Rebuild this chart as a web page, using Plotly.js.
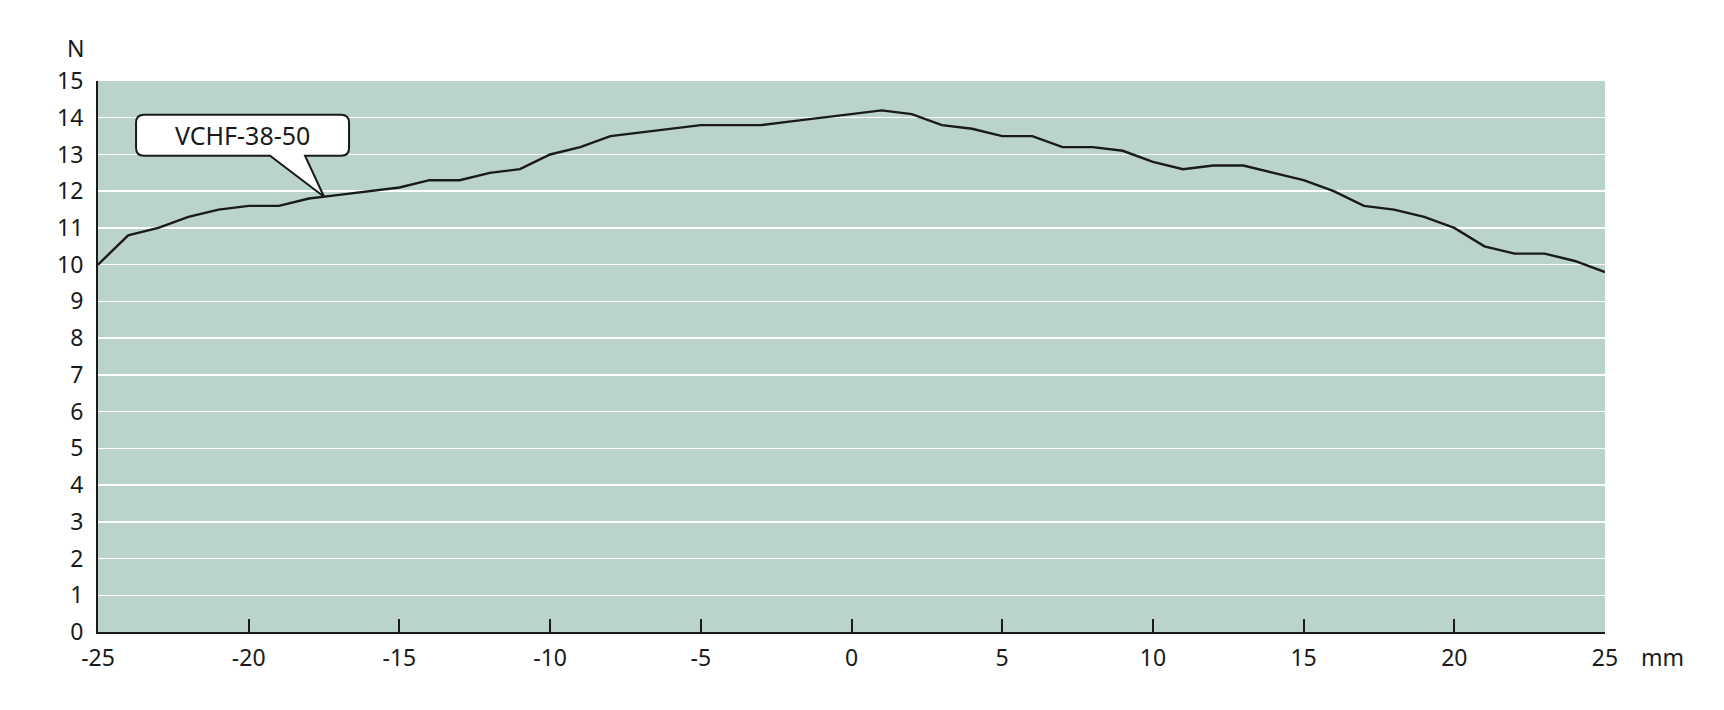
<!DOCTYPE html>
<html>
<head>
<meta charset="utf-8">
<script src="https://cdn.plot.ly/plotly-3.0.1.min.js"></script>
<style>html,body{margin:0;padding:0;background:#fff;}#chart{width:1724px;height:710px;}</style>
</head>
<body>
<div id="chart"></div>
<script>
// Displacement (mm)
const positions = [-25,-24,-23,-22,-21,-20,-19,-18,-17,-16,-15,-14,-13,-12,-11,-10,-9,-8,-7,-6,-5,-4,-3,-2,-1,0,1,2,3,4,5,6,7,8,9,10,11,12,13,14,15,16,17,18,19,20,21,22,23,24,25];
// Force (N)
const force = [10.0,10.8,11.0,11.3,11.5,11.6,11.6,11.8,11.9,12.0,12.1,12.3,12.3,12.5,12.6,13.0,13.2,13.5,13.6,13.7,13.8,13.8,13.8,13.9,14.0,14.1,14.2,14.1,13.8,13.7,13.5,13.5,13.2,13.2,13.1,12.8,12.6,12.7,12.7,12.5,12.3,12.0,11.6,11.5,11.3,11.0,10.5,10.3,10.3,10.1,9.8];
const seriesName = "VCHF-38-50";
const xTicks = [-25,-20,-15,-10,-5,0,5,10,15,20,25];
const yTicks = [0,1,2,3,4,5,6,7,8,9,10,11,12,13,14,15];
const xUnit = "mm";
const yUnit = "N";
const labelAt = -17.5;

// interpolate label anchor point on the curve
function interp(x){
  for(let i=0;i<positions.length-1;i++){
    if(x>=positions[i] && x<=positions[i+1]){
      const t=(x-positions[i])/(positions[i+1]-positions[i]);
      return force[i]+t*(force[i+1]-force[i]);
    }
  }
  return force[0];
}
const tipY = interp(labelAt);

const font = "Noto Sans, Open Sans, sans-serif";
const ink = "#1a1a1a";
const fs = 23;

const trace = {
  x: positions, y: force, type: "scatter", mode: "lines",
  line: {color: ink, width: 2.4}, name: seriesName, hoverinfo: "x+y"
};

// speech-bubble path (pixels relative to the tip, y upwards)
const bubble = "M 0 0 L -54 41 L -180 41 Q -188 41 -188 49 L -188 74 Q -188 82 -180 82 L 17 82 Q 25 82 25 74 L 25 49 Q 25 41 17 41 L -19 41 Z";

const layout = {
  width: 1724, height: 710,
  margin: {l: 98, r: 119, t: 81, b: 78},
  paper_bgcolor: "#ffffff",
  plot_bgcolor: "#bbd4ca",
  showlegend: false,
  font: {family: font, size: fs, color: ink},
  xaxis: {
    range: [-25, 25], tickvals: xTicks, ticktext: xTicks.map(String),
    ticks: "inside", ticklen: 13, tickwidth: 2, tickcolor: ink,
    showline: true, linecolor: ink, linewidth: 2,
    showgrid: false, zeroline: false, fixedrange: true, ticklabelstandoff: 4,
    tickfont: {family: font, size: fs, color: ink}
  },
  yaxis: {
    range: [0, 15], tickvals: yTicks, ticktext: yTicks.map(String),
    ticks: "", showline: true, linecolor: ink, linewidth: 2,
    showgrid: true, gridcolor: "#ffffff", gridwidth: 1.5,
    zeroline: false, fixedrange: true, ticklabelstandoff: 8,
    tickfont: {family: font, size: fs, color: ink}
  },
  shapes: [{
    type: "path", xref: "x", yref: "y",
    xsizemode: "pixel", ysizemode: "pixel",
    xanchor: labelAt, yanchor: tipY,
    path: bubble, fillcolor: "#ffffff",
    line: {color: ink, width: 2}, layer: "above"
  }],
  annotations: [
    {x: labelAt, y: tipY, xref: "x", yref: "y", text: seriesName, showarrow: false,
     xshift: -81.5, yshift: 61.5, xanchor: "center", yanchor: "middle",
     font: {family: font, size: 25, color: ink}},
    {x: 0, y: 1, xref: "paper", yref: "paper", text: yUnit, showarrow: false,
     xshift: -23, yshift: 33, xanchor: "center", yanchor: "middle",
     font: {family: font, size: fs, color: ink}},
    {x: 1, y: 0, xref: "paper", yref: "paper", text: xUnit, showarrow: false,
     xshift: 57, yshift: -25, xanchor: "center", yanchor: "middle",
     font: {family: font, size: fs, color: ink}}
  ]
};

Plotly.newPlot("chart", [trace], layout, {displayModeBar: false, staticPlot: true});
</script>
</body>
</html>
